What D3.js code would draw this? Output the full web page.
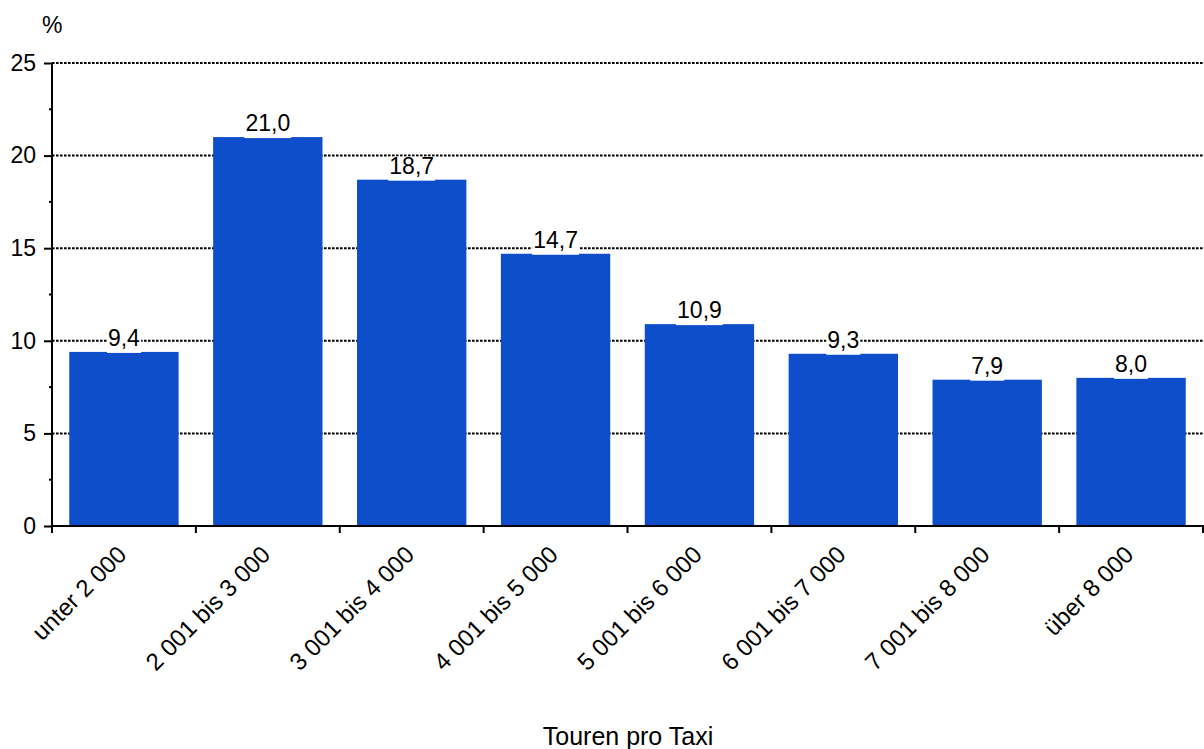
<!DOCTYPE html>
<html>
<head>
<meta charset="utf-8">
<script src="https://cdn.jsdelivr.net/npm/d3@7"></script>
<style>
  body { margin: 0; background: #fff; }
  text { font-family: "Liberation Sans", Arial, sans-serif; fill: #000; }
</style>
</head>
<body>
<svg id="chart"></svg>
<script>
var categories = ["unter 2 000", "2 001 bis 3 000", "3 001 bis 4 000", "4 001 bis 5 000", "5 001 bis 6 000", "6 001 bis 7 000", "7 001 bis 8 000", "über 8 000"]
var values = [9.4, 21.0, 18.7, 14.7, 10.9, 9.3, 7.9, 8.0]
var yTicks = [0, 5, 10, 15, 20, 25]
var yMinorTicks = [2.5, 7.5, 12.5, 17.5, 22.5]

var dimensions = {
  width: 1204,
  height: 749,
  margin: {
    top: 63,
    bottom: 223,
    left: 52,
    right: 1
  }
}

var fontSize = 23
var barColor = "#0e4ecb"

var svg = d3.select("#chart")
  .attr("width", dimensions.width)
  .attr("height", dimensions.height)

var x = d3.scaleBand()
  .range([dimensions.margin.left, dimensions.width - dimensions.margin.right])
  .domain(categories)
  .paddingInner(0.24)
  .paddingOuter(0.12)

var y = d3.scaleLinear()
  .domain([0, 25])
  .range([dimensions.height - dimensions.margin.bottom, dimensions.margin.top])

// dotted grid lines
svg.append("g")
  .selectAll("line")
  .data(yTicks.filter(d => d > 0))
  .enter()
  .append("line")
    .attr("x1", dimensions.margin.left)
    .attr("x2", dimensions.width)
    .attr("y1", d => y(d))
    .attr("y2", d => y(d))
    .attr("stroke", "#000")
    .attr("stroke-width", 2)
    .attr("stroke-dasharray", "2.6,1.4")

// bars
svg.selectAll("rect.bar")
  .data(values)
  .enter()
  .append("rect")
    .attr("class", "bar")
    .attr("x", (d, i) => x(categories[i]))
    .attr("y", d => y(d))
    .attr("width", x.bandwidth())
    .attr("height", d => y(0) - y(d))
    .attr("fill", barColor)

// value labels with white box behind
var labels = svg.append("g")
labels.selectAll("g")
  .data(values)
  .enter()
  .append("g")
  .each(function(d, i){
    var g = d3.select(this)
    var cx = x(categories[i]) + x.bandwidth() / 2
    var t = g.append("text")
      .attr("x", cx)
      .attr("y", y(d) - 6)
      .attr("text-anchor", "middle")
      .style("font-size", fontSize + "px")
      .text(d.toFixed(1).replace(".", ","))
    var bb = t.node().getBBox()
    g.insert("rect", "text")
      .attr("x", bb.x - 1)
      .attr("y", bb.y + 4)
      .attr("width", bb.width + 2)
      .attr("height", y(d) + 1 - (bb.y + 4))
      .attr("fill", "#fff")
  })

// y axis
var yAxis = svg.append("g")
  .attr("transform", `translate(${dimensions.margin.left},0)`)
  .call(d3.axisLeft(y).tickValues(yTicks).tickSize(8).tickPadding(8).tickFormat(d3.format("d")))
yAxis.select(".domain").attr("stroke-width", 2).attr("d", `M0,${y(0)}V${y(25)}`)
yAxis.selectAll(".tick line").attr("stroke-width", 2)
yAxis.selectAll(".tick text").style("font-size", fontSize + "px")
yAxis.attr("font-family", null)

svg.append("g")
  .selectAll("line")
  .data(yMinorTicks)
  .enter()
  .append("line")
    .attr("x1", dimensions.margin.left - 3)
    .attr("x2", dimensions.margin.left)
    .attr("y1", d => y(d))
    .attr("y2", d => y(d))
    .attr("stroke", "#000")
    .attr("stroke-width", 2)

// x axis
var xAxis = svg.append("g")
  .attr("transform", `translate(0,${y(0)})`)
  .call(d3.axisBottom(x).tickSize(0).tickPadding(0))
xAxis.attr("font-family", null)
xAxis.select(".domain").remove()
xAxis.append("line")
  .attr("x1", dimensions.margin.left - 1)
  .attr("x2", dimensions.width)
  .attr("stroke", "#000")
  .attr("stroke-width", 2)

var step = x.step()
var boundaries = d3.range(categories.length + 1).map(i => x(categories[0]) - x.paddingOuter() * step + i * step)
xAxis.selectAll("line.sep")
  .data(boundaries)
  .enter()
  .append("line")
    .attr("class", "sep")
    .attr("x1", d => d)
    .attr("x2", d => d)
    .attr("y1", 0)
    .attr("y2", 7)
    .attr("stroke", "#000")
    .attr("stroke-width", 2)

xAxis.selectAll(".tick text")
  .style("font-size", "24px")
  .attr("text-anchor", "end")
  .attr("dy", 0)
  .attr("transform", "translate(4,30)rotate(-45)")

// titles
svg.append("text")
  .attr("x", 42)
  .attr("y", 33)
  .style("font-size", fontSize + "px")
  .text("%")

svg.append("text")
  .attr("x", (dimensions.margin.left + dimensions.width) / 2)
  .attr("y", 745)
  .attr("text-anchor", "middle")
  .style("font-size", "25px")
  .text("Touren pro Taxi")
</script>
</body>
</html>
